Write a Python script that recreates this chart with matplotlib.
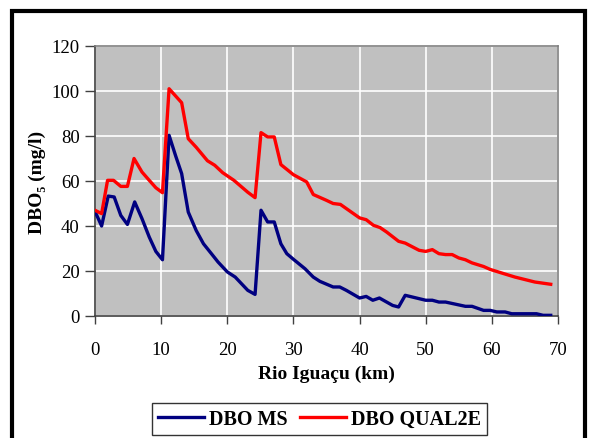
import matplotlib.pyplot as plt
from matplotlib.patches import Rectangle

# DBO MS (modelo)
km_ms = [0, 1, 2, 2.9, 3.9, 4.9, 6, 7.1, 8.2, 9.2, 10.2, 11.2, 12.2, 13.1, 14.1,
         15.3, 16.4, 17.6, 18.6, 20, 21.2, 23.1, 24.2, 25.1, 26.1, 27.1, 28.1,
         29, 30, 31.75, 33, 34, 36, 37, 38, 40, 41, 42, 43, 45, 45.9, 46.9, 50,
         51, 52, 53, 56, 57, 58.75, 59.75, 60.75, 62, 63, 66.75, 67.75, 68.9]
dbo_ms = [46.5, 40, 53.3, 52.9, 44.7, 40.7, 50.7, 43.3, 35.1, 28.7, 25, 80.3,
          71.1, 63.3, 46.2, 38, 32.1, 27.7, 24, 19.6, 17.3, 11.4, 9.6, 47, 41.8,
          41.8, 32.1, 27.7, 25.2, 21, 17.3, 15.4, 12.9, 12.9, 11.4, 8, 8.7, 7,
          8, 4.7, 4, 9.2, 7, 7, 6.2, 6.2, 4.3, 4.3, 2.5, 2.5, 1.8, 1.8, 1, 1,
          0.3, 0.3]

# DBO QUAL2E
km_q2e = [0, 1, 1.9, 2.8, 3.9, 4.9, 5.9, 7.1, 8.2, 9.2, 10.2, 11.2, 13.1, 14.1,
          15.3, 17, 18.1, 19.3, 21, 23.1, 24.2, 25.1, 26.1, 27.1, 28.1, 30, 32,
          33, 35, 36, 37.1, 40, 41, 42.1, 43.1, 44.1, 45.9, 46.9, 49, 50, 51,
          52, 53, 54, 55, 56, 57, 58.75, 59.75, 61.5, 63.5, 66.5, 68.9]
dbo_q2e = [47, 45.5, 60.3, 60.3, 57.6, 57.6, 70, 64, 60.3, 57, 54.8, 101, 94.8,
           78.8, 75, 69, 67, 63.7, 60.3, 55, 52.6, 81.5, 79.6, 79.6, 67.3, 62.8,
           59.6, 54, 51.4, 50, 49.6, 43.6, 42.8, 40.3, 39.3, 37.3, 33.2, 32.4,
           29.2, 28.7, 29.5, 27.7, 27.3, 27.3, 25.8, 25, 23.6, 22, 20.7, 19.1,
           17.3, 15.1, 14.1]

plt.rcParams['font.family'] = ['Liberation Serif', 'DejaVu Serif']

fig = plt.figure(figsize=(5.89, 4.39), dpi=100)
ax = fig.add_axes([95 / 589, 1 - 317 / 439, 463 / 589, 270 / 439])

ax.set_facecolor('#C0C0C0')
ax.plot(km_ms, dbo_ms, color='#000080', lw=2.4, label='DBO MS', zorder=3)
ax.plot(km_q2e, dbo_q2e, color='#FF0000', lw=2.4, label='DBO QUAL2E', zorder=3)

ax.set_xlim(0, 70)
ax.set_ylim(0, 120)
ax.set_xticks(range(0, 71, 10))
ax.set_yticks(range(0, 121, 20))
ax.grid(True, color='white', lw=1.2)
ax.set_axisbelow(True)
for s in ax.spines.values():
    s.set_color('#808080')
    s.set_linewidth(1.2)
ax.spines['left'].set_color('#404040')
ax.spines['bottom'].set_color('#404040')
ax.tick_params(axis='both', labelsize=13.5, color='#404040', width=1, direction='out')
ax.tick_params(axis='y', length=7, pad=4)
ax.tick_params(axis='x', length=6, pad=12)

ax.set_xlabel('Rio Iguaçu (km)', fontsize=14, fontweight='bold', labelpad=5)
ax.set_ylabel('DBO₅ (mg/l)', fontsize=14, fontweight='bold', labelpad=4)

leg = fig.legend(loc='center', bbox_to_anchor=(319.5 / 589, 1 - 420 / 439),
                 ncol=2, frameon=True, fancybox=False, edgecolor='black',
                 prop={'size': 14.5, 'weight': 'bold'}, handlelength=2.3,
                 columnspacing=0.6, handletextpad=0.25, borderpad=0.3,
                 borderaxespad=0)
leg.get_frame().set_linewidth(1)

# outer frame
fig.patches.append(Rectangle((12 / 589, -0.05), 573 / 589, 1 - 12 / 439 + 0.05,
                             transform=fig.transFigure, fill=False,
                             edgecolor='black', lw=3))

plt.savefig('out.png', dpi=100)
